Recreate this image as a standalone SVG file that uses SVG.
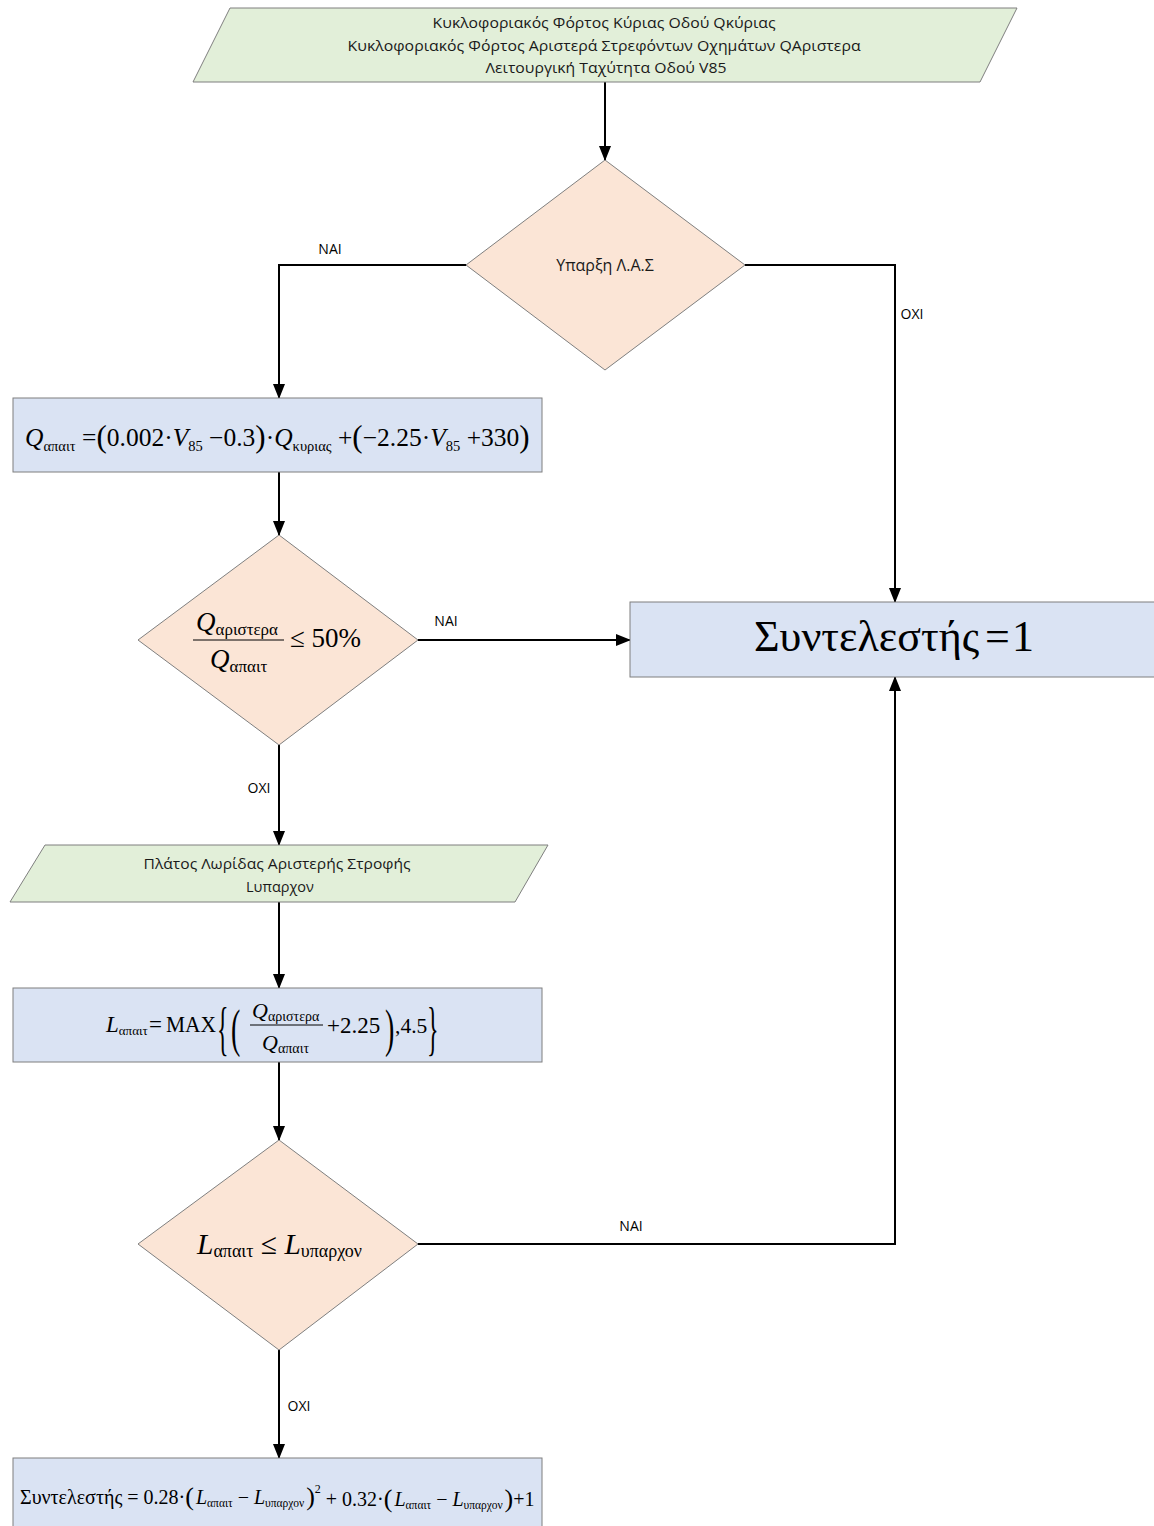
<svg xmlns="http://www.w3.org/2000/svg" width="1154" height="1526" viewBox="0 0 1154 1526">
  <defs>
    <marker id="arr" markerWidth="15" markerHeight="12" refX="14" refY="6" orient="auto" markerUnits="userSpaceOnUse">
      <path d="M0,0 L15,6 L0,12 Z" fill="#000"/>
    </marker>
    <style>
      .io { fill:#e2efd9; stroke:#7f7f7f; stroke-width:1; }
      .dec { fill:#fbe5d6; stroke:#7f7f7f; stroke-width:1; }
      .proc { fill:#dae3f3; stroke:#7f7f7f; stroke-width:1; }
      .sans { font-family:"Open Sans","Noto Sans",sans-serif; fill:#1a1a1a; }
      .lbl { font-family:"Open Sans","Noto Sans",sans-serif; font-size:14px; fill:#000; text-anchor:middle; }
      .m { font-family:"Liberation Serif","Times New Roman",serif; fill:#000; }
      .i { font-style:italic; }
      .edge { fill:none; stroke:#000; stroke-width:2; }
    </style>
  </defs>
  <rect width="1154" height="1526" fill="#fff"/>

  <!-- connectors -->
  <g id="connectors">
    <path class="edge" d="M605,82 V160" marker-end="url(#arr)"/>
    <path class="edge" d="M466,265 H279 V398" marker-end="url(#arr)"/>
    <path class="edge" d="M745,265 H895 V602" marker-end="url(#arr)"/>
    <path class="edge" d="M279,472 V535" marker-end="url(#arr)"/>
    <path class="edge" d="M418,640 H630" marker-end="url(#arr)"/>
    <path class="edge" d="M279,745 V845" marker-end="url(#arr)"/>
    <path class="edge" d="M279,902 V988" marker-end="url(#arr)"/>
    <path class="edge" d="M279,1062 V1140" marker-end="url(#arr)"/>
    <path class="edge" d="M418,1244 H895 V677" marker-end="url(#arr)"/>
    <path class="edge" d="M279,1350 V1458" marker-end="url(#arr)"/>
    <text class="lbl" x="330" y="254">NAI</text>
    <text class="lbl" x="912" y="319">OXI</text>
    <text class="lbl" x="446" y="626">NAI</text>
    <text class="lbl" x="259" y="793">OXI</text>
    <text class="lbl" x="631" y="1231">NAI</text>
    <text class="lbl" x="299" y="1411">OXI</text>
  </g>

  <!-- inputs: volumes and speed -->
  <g id="input-main">
    <polygon class="io" points="230,8 1017,8 980,82 193,82"/>
    <text class="sans" font-size="14.5" text-anchor="middle">
      <tspan x="606" y="28" textLength="343" lengthAdjust="spacingAndGlyphs">Κυκλοφοριακός Φόρτος Κύριας Οδού Qκύριας</tspan>
      <tspan x="606" y="51" textLength="513" lengthAdjust="spacingAndGlyphs">Κυκλοφοριακός Φόρτος Αριστερά Στρεφόντων Οχημάτων QΑριστερα</tspan>
      <tspan x="606" y="73" textLength="241" lengthAdjust="spacingAndGlyphs">Λειτουργική Ταχύτητα Οδού V85</tspan>
    </text>
  </g>

  <!-- decision: left-turn lane exists -->
  <g id="dec-las">
    <polygon class="dec" points="605,160 745,265 605,370 466,265"/>
    <text class="sans" font-size="16" x="605" y="271" text-anchor="middle">Υπαρξη Λ.Α.Σ</text>
  </g>

  <!-- required volume -->
  <g id="proc-qapait">
    <rect class="proc" x="13" y="398" width="529" height="74"/>
    <text class="m" x="25" y="446" font-size="25.5"><tspan class="i">Q</tspan><tspan font-size="14.5" dy="5">απαιτ</tspan><tspan dy="-5"> =</tspan><tspan font-size="31" dy="1">(</tspan><tspan dy="-1">0.002·</tspan><tspan class="i">V</tspan><tspan font-size="14.5" dy="5">85</tspan><tspan dy="-5"> −0.3</tspan><tspan font-size="31" dy="1">)</tspan><tspan dy="-1">·</tspan><tspan class="i">Q</tspan><tspan font-size="14.5" dy="5">κυριας</tspan><tspan dy="-5"> +</tspan><tspan font-size="31" dy="1">(</tspan><tspan dy="-1">−2.25·</tspan><tspan class="i">V</tspan><tspan font-size="14.5" dy="5">85</tspan><tspan dy="-5"> +330</tspan><tspan font-size="31" dy="1">)</tspan></text>
  </g>

  <!-- decision: left-turn share -->
  <g id="dec-share">
    <polygon class="dec" points="279,535 418,640 279,745 138,640"/>
    <text class="m" x="196" y="631" font-size="27"><tspan class="i">Q</tspan><tspan font-size="17" dy="4">αριστερα</tspan></text>
    <line x1="193" y1="640" x2="284" y2="640" stroke="#000" stroke-width="1.2"/>
    <text class="m" x="210" y="668" font-size="27"><tspan class="i">Q</tspan><tspan font-size="17" dy="4">απαιτ</tspan></text>
    <text class="m" x="290" y="647" font-size="27">≤ 50%</text>
  </g>

  <!-- result: factor equals one -->
  <g id="proc-one">
    <rect class="proc" x="630" y="602" width="530" height="75"/>
    <text class="m" x="754" y="651" font-size="44">Συντελεστής<tspan dx="6">=</tspan><tspan dx="2">1</tspan></text>
  </g>

  <!-- input: existing lane length -->
  <g id="input-lane">
    <polygon class="io" points="45,845 548,845 515,902 10,902"/>
    <text class="sans" font-size="14.5" text-anchor="middle">
      <tspan x="279" y="869" textLength="267" lengthAdjust="spacingAndGlyphs">Πλάτος Λωρίδας Αριστερής Στροφής</tspan>
      <tspan x="280" y="892">Lυπαρχον</tspan>
    </text>
  </g>

  <!-- required length -->
  <g id="proc-lapait">
    <rect class="proc" x="13" y="988" width="529" height="74"/>
    <text class="m" x="106" y="1032" font-size="23"><tspan class="i">L</tspan><tspan font-size="13" dy="3">απαιτ</tspan></text>
    <text class="m" x="149" y="1032" font-size="23">=</text>
    <text class="m" x="166" y="1032" font-size="23" textLength="50" lengthAdjust="spacingAndGlyphs">MAX</text>
    <text class="m" font-size="24" transform="translate(217,1048) scale(1,2.5)" x="0" y="0">{</text>
    <text class="m" font-size="28" transform="translate(231,1046) scale(1,1.9)" x="0" y="0">(</text>
    <text class="m" x="252" y="1018" font-size="22"><tspan class="i">Q</tspan><tspan font-size="14" dy="3">αριστερα</tspan></text>
    <line x1="250" y1="1025" x2="323" y2="1025" stroke="#000" stroke-width="1"/>
    <text class="m" x="262" y="1050" font-size="22"><tspan class="i">Q</tspan><tspan font-size="14" dy="3">απαιτ</tspan></text>
    <text class="m" x="327" y="1033" font-size="23">+2.25</text>
    <text class="m" font-size="28" transform="translate(385,1046) scale(1,1.9)" x="0" y="0">)</text>
    <text class="m" x="395" y="1033" font-size="21.5">,4.5</text>
    <text class="m" font-size="24" transform="translate(427,1048) scale(1,2.5)" x="0" y="0">}</text>
  </g>

  <!-- decision: required vs existing length -->
  <g id="dec-length">
    <polygon class="dec" points="279,1140 418,1244 279,1350 138,1244"/>
    <text class="m" x="197" y="1254" font-size="29.5"><tspan class="i">L</tspan><tspan font-size="18" dy="3">απαιτ</tspan><tspan dy="-3"> ≤ </tspan><tspan class="i">L</tspan><tspan font-size="18" dy="3">υπαρχον</tspan></text>
  </g>

  <!-- factor formula -->
  <g id="proc-factor">
    <rect class="proc" x="13" y="1458" width="529" height="75"/>
    <text class="m" x="20" y="1504" font-size="20">Συντελεστής = 0.28·<tspan font-size="26" dy="1">(</tspan><tspan class="i" dy="-1" dx="2">L</tspan><tspan font-size="11.5" dy="3">απαιτ</tspan><tspan dy="-3"> − </tspan><tspan class="i">L</tspan><tspan font-size="11.5" dy="3">υπαρχον</tspan><tspan font-size="26" dy="-2" dx="2">)</tspan><tspan font-size="12" dy="-12">2</tspan><tspan dy="13"> + 0.32·</tspan><tspan font-size="26" dy="1">(</tspan><tspan class="i" dy="-1" dx="2">L</tspan><tspan font-size="11.5" dy="3">απαιτ</tspan><tspan dy="-3"> − </tspan><tspan class="i">L</tspan><tspan font-size="11.5" dy="3">υπαρχον</tspan><tspan font-size="26" dy="-2" dx="2">)</tspan><tspan dy="-1">+1</tspan></text>
  </g>
</svg>
